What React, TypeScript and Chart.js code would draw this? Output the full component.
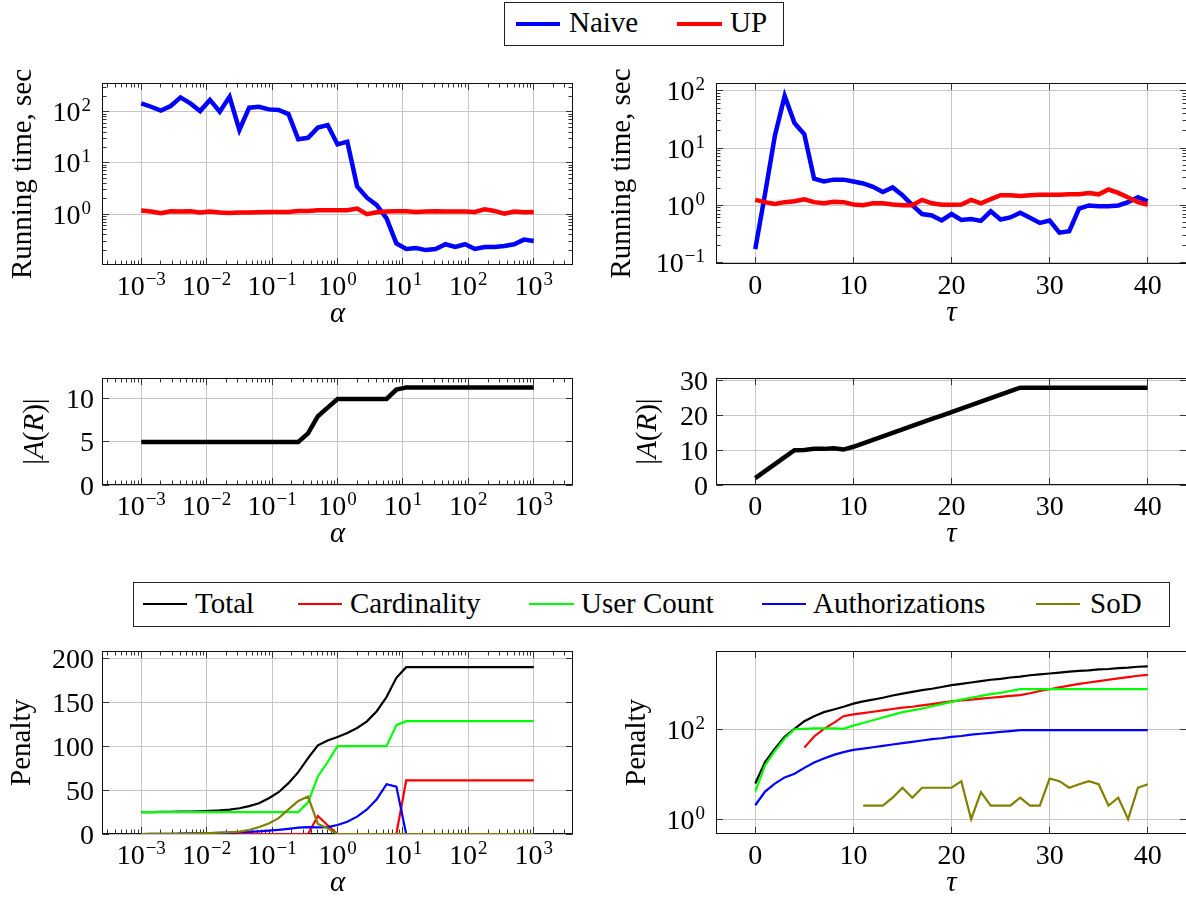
import React, { useEffect, useRef } from "react";
import { Chart, registerables } from "chart.js";
Chart.register(...registerables);

// ---------- fonts ----------
const SERIF = "'Liberation Serif', 'Times New Roman', serif";
const MAIN_PX = 28; // tick digits
const TEXT_PX = 29; // words (titles, legend)
const SUP_PX = 19;
function fontMetrics(px: number) {
  const c = document.createElement("canvas").getContext("2d") as CanvasRenderingContext2D;
  c.font = `${px}px ${SERIF}`;
  const m: any = c.measureText("Hg");
  return { asc: m.fontBoundingBoxAscent ?? px * 0.891, desc: m.fontBoundingBoxDescent ?? px * 0.216 };
}
const FM = fontMetrics(TEXT_PX);

// ---------- data ----------
const alphaExp = [-3, -2.85, -2.7, -2.55, -2.4, -2.25, -2.1, -1.95, -1.8, -1.65, -1.5, -1.35, -1.2, -1.05, -0.9, -0.75, -0.6, -0.45, -0.3, -0.15, 0, 0.15, 0.3, 0.45, 0.6, 0.75, 0.9, 1.05, 1.2, 1.35, 1.5, 1.65, 1.8, 1.95, 2.1, 2.25, 2.4, 2.55, 2.7, 2.85, 3];
const alpha = alphaExp.map((e) => Math.pow(10, e));
const tau = [0, 1, 2, 3, 4, 5, 6, 7, 8, 9, 10, 11, 12, 13, 14, 15, 16, 17, 18, 19, 20, 21, 22, 23, 24, 25, 26, 27, 28, 29, 30, 31, 32, 33, 34, 35, 36, 37, 38, 39, 40];

const naiveAlpha = [145, 125, 105, 129, 190, 145, 103, 170, 100, 195, 44, 120, 125, 111, 108, 90, 29, 31, 49, 55, 23, 26, 3.5, 2.1, 1.5, 0.83, 0.27, 0.21, 0.22, 0.2, 0.21, 0.26, 0.23, 0.26, 0.21, 0.23, 0.23, 0.24, 0.26, 0.32, 0.3];
const upAlpha = [1.18, 1.13, 1.05, 1.14, 1.13, 1.14, 1.08, 1.13, 1.08, 1.06, 1.08, 1.08, 1.09, 1.11, 1.11, 1.11, 1.16, 1.16, 1.2, 1.2, 1.2, 1.2, 1.29, 1.0, 1.09, 1.13, 1.14, 1.14, 1.11, 1.13, 1.14, 1.13, 1.13, 1.13, 1.11, 1.25, 1.16, 1.03, 1.13, 1.09, 1.11];

const naiveTau = [0.17, 1.6, 16.4, 82, 27.5, 17.4, 2.9, 2.6, 2.8, 2.8, 2.6, 2.4, 2.1, 1.7, 2.05, 1.5, 1.0, 0.7, 0.66, 0.54, 0.7, 0.55, 0.57, 0.53, 0.78, 0.56, 0.61, 0.74, 0.6, 0.49, 0.54, 0.33, 0.35, 0.87, 0.99, 0.96, 0.96, 0.99, 1.13, 1.38, 1.17];
const upTau = [1.24, 1.13, 1.05, 1.13, 1.17, 1.27, 1.13, 1.08, 1.15, 1.13, 1.03, 1.0, 1.08, 1.08, 1.03, 1.0, 1.0, 1.24, 1.08, 1.02, 1.02, 1.03, 1.24, 1.08, 1.28, 1.5, 1.5, 1.45, 1.5, 1.52, 1.52, 1.52, 1.55, 1.55, 1.64, 1.55, 1.88, 1.64, 1.36, 1.13, 1.02];

const sizeAlpha = [5, 5, 5, 5, 5, 5, 5, 5, 5, 5, 5, 5, 5, 5, 5, 5, 5, 6, 8, 9, 10, 10, 10, 10, 10, 10, 11.1, 11.35, 11.35, 11.35, 11.35, 11.35, 11.35, 11.35, 11.35, 11.35, 11.35, 11.35, 11.35, 11.35, 11.35];
const sizeTau = [2, 4, 6, 8, 10, 10.1, 10.4, 10.4, 10.6, 10.2, 11, 12, 13, 14, 15, 16, 17, 18, 19, 20, 21, 22, 23, 24, 25, 26, 27, 28, 28, 28, 28, 28, 28, 28, 28, 28, 28, 28, 28, 28, 28];

const totalAlpha = [24.8, 25.0, 25.1, 25.2, 25.4, 25.6, 25.9, 26.3, 26.8, 27.8, 29.3, 31.7, 35, 40.7, 47.6, 57.9, 70.4, 86.4, 101, 106.6, 110.4, 115, 120.7, 128.3, 139.8, 156, 177.8, 190, 190, 190, 190, 190, 190, 190, 190, 190, 190, 190, 190, 190, 190];
const cardAlpha = [0, 0, 0, 0, 0, 0, 0, 0, 0, 0, 0, 0, 0, 0, 0, 0, 0, 0, 20.5, 10, 0, 0, 0, 0, 0, 0, 0, 61, 61, 61, 61, 61, 61, 61, 61, 61, 61, 61, 61, 61, 61];
const userAlpha = [25, 25, 25, 25, 25, 25, 25, 25, 25, 25, 25, 25, 25, 25, 25, 25, 25, 36, 65.5, 82, 100, 100, 100, 100, 100, 100, 124, 128.5, 128.5, 128.5, 128.5, 128.5, 128.5, 128.5, 128.5, 128.5, 128.5, 128.5, 128.5, 128.5, 128.5];
const authAlpha = [0, 0.1, 0.2, 0.3, 0.4, 0.6, 0.8, 1.0, 1.3, 1.6, 2.0, 2.5, 3.1, 3.9, 4.8, 5.9, 7.2, 7.8, 7.6, 7.8, 10.3, 14, 19.8, 28, 39.6, 56.7, 54, 0, 0, 0, 0, 0, 0, 0, 0, 0, 0, 0, 0, 0, 0];
const sodAlpha = [0, 0.05, 0.1, 0.2, 0.3, 0.5, 0.7, 1.0, 1.5, 2.0, 2.7, 4.5, 8, 12, 18, 28, 37.7, 42.6, 11.4, 6.5, 0, 0, 0, 0, 0, 0, 0, 0, 0, 0, 0, 0, 0, 0, 0, 0, 0, 0, 0, 0, 0];

const totalTau = [6.2, 18.6, 37, 68, 102, 151, 195, 240, 275, 316, 372, 417, 457, 501, 562, 617, 676, 741, 794, 871, 955, 1023, 1096, 1175, 1259, 1318, 1413, 1479, 1585, 1660, 1738, 1820, 1905, 1995, 2042, 2138, 2188, 2291, 2344, 2455, 2512];
const cardTau = [null, null, null, null, null, 39, 69, 102, 138, 195, 214, 229, 245, 263, 282, 302, 316, 339, 363, 389, 417, 437, 457, 479, 501, 525, 550, 575, 631, 708, 776, 851, 933, 1023, 1096, 1175, 1259, 1349, 1445, 1549, 1622];
const userTau = [4.1, 15.8, 33, 62, 100, 102, 105, 105, 105, 102, 120, 138, 158, 182, 209, 240, 263, 288, 324, 363, 407, 457, 501, 550, 603, 646, 708, 776, 776, 776, 776, 776, 776, 776, 776, 776, 776, 776, 776, 776, 776];
const authTau = [2.04, 4.1, 6.2, 8.5, 10.2, 13.8, 18.2, 22.4, 26.9, 30.9, 34.7, 37.2, 39.8, 42.7, 45.7, 49, 52.5, 56.2, 60.3, 63.1, 67.6, 70.8, 75.9, 79.4, 83.2, 87.1, 91.2, 95.5, 95.5, 95.5, 95.5, 95.5, 95.5, 95.5, 95.5, 95.5, 95.5, 95.5, 95.5, 95.5, 95.5];
const sodTau = [null, null, null, null, null, null, null, null, null, null, null, 2, 2, 2, 3, 5, 3, 5, 5, 5, 5, 7, 1, 4, 2, 2, 2, 3, 2, 2, 8, 7, 5, 6, 7, 6, 2, 3, 1, 5, 6];

// ---------- ticks / labels ----------
const alphaTicks = [1e-3, 1e-2, 1e-1, 1, 10, 100, 1000];
const alphaTickExps = ["−3", "−2", "−1", "0", "1", "2", "3"];
const tauTicks = [0, 10, 20, 30, 40];
const runAlphaYTicks = [1, 10, 100];
const runAlphaYExps = ["0", "1", "2"];
const runTauYTicks = [0.1, 1, 10, 100];
const runTauYExps = ["−1", "0", "1", "2"];
const sizeAlphaYTicks = [0, 5, 10];
const sizeTauYTicks = [0, 10, 20, 30];
const penAlphaYTicks = [0, 50, 100, 150, 200];
const penTauYTicks = [1, 100];
const penTauYExps = ["0", "2"];

const runLabels = ["Naive", "UP"];
const runColors = ["#0000ff", "#ff0000"];
const penLabels = ["Total", "Cardinality", "User Count", "Authorizations", "SoD"];
const penColors = ["#000000", "#ff0000", "#00ff00", "#0000ff", "#808000"];

// ---------- types ----------
type Seg = { t: string; it?: boolean };
interface AxisCfg { log: boolean; min: number; max: number; ticks: number[]; exps?: string[]; minor: boolean }
interface DS { label: string; data: (number | null)[]; color: string; width: number }
interface PanelCfg {
  left: number; top: number; w: number; h: number;
  plot: { l: number; t: number; r: number; b: number };
  x: AxisCfg; xs: number[]; y: AxisCfg;
  xTitle: Seg[]; yTitle: Seg[]; yTitleX: number;
  series: DS[];
}

const alphaAxis: AxisCfg = { log: true, min: Math.pow(10, -3.6), max: Math.pow(10, 3.6), ticks: alphaTicks, exps: alphaTickExps, minor: true };
const tauAxis: AxisCfg = { log: false, min: -4, max: 44, ticks: tauTicks, minor: false };
const ALPHA: Seg[] = [{ t: "α", it: true }];
const TAU: Seg[] = [{ t: "τ", it: true }];
const RUN: Seg[] = [{ t: "Running time, sec" }];
const SIZE: Seg[] = [{ t: "|" }, { t: "A", it: true }, { t: "(" }, { t: "R", it: true }, { t: ")" }, { t: "|" }];
const PEN: Seg[] = [{ t: "Penalty" }];

const panels: PanelCfg[] = [
  {
    left: 0, top: 55, w: 595, h: 275, plot: { l: 102, t: 83, r: 573, b: 265 },
    x: alphaAxis, xs: alpha,
    y: { log: true, min: Math.pow(10, -0.99), max: Math.pow(10, 2.56), ticks: runAlphaYTicks, exps: runAlphaYExps, minor: true },
    xTitle: ALPHA, yTitle: RUN, yTitleX: 31,
    series: [
      { label: runLabels[0], data: naiveAlpha, color: runColors[0], width: 4.5 },
      { label: runLabels[1], data: upAlpha, color: runColors[1], width: 4.5 },
    ],
  },
  {
    left: 600, top: 55, w: 600, h: 275, plot: { l: 716, t: 83, r: 1187, b: 264 },
    x: tauAxis, xs: tau,
    y: { log: true, min: Math.pow(10, -1.03), max: Math.pow(10, 2.14), ticks: runTauYTicks, exps: runTauYExps, minor: true },
    xTitle: TAU, yTitle: RUN, yTitleX: 630,
    series: [
      { label: runLabels[0], data: naiveTau, color: runColors[0], width: 4.5 },
      { label: runLabels[1], data: upTau, color: runColors[1], width: 4.5 },
    ],
  },
  {
    left: 0, top: 350, w: 595, h: 215, plot: { l: 102, t: 378, r: 573, b: 485 },
    x: alphaAxis, xs: alpha,
    y: { log: false, min: 0, max: 12.44, ticks: sizeAlphaYTicks, minor: false },
    xTitle: ALPHA, yTitle: SIZE, yTitleX: 43,
    series: [{ label: "size", data: sizeAlpha, color: "#000000", width: 4.5 }],
  },
  {
    left: 600, top: 350, w: 600, h: 215, plot: { l: 716, t: 378, r: 1187, b: 485 },
    x: tauAxis, xs: tau,
    y: { log: false, min: 0, max: 30.8, ticks: sizeTauYTicks, minor: false },
    xTitle: TAU, yTitle: SIZE, yTitleX: 656,
    series: [{ label: "size", data: sizeTau, color: "#000000", width: 4.5 }],
  },
  {
    left: 0, top: 636, w: 595, h: 263, plot: { l: 102, t: 651, r: 573, b: 834 },
    x: alphaAxis, xs: alpha,
    y: { log: false, min: 0, max: 208.4, ticks: penAlphaYTicks, minor: false },
    xTitle: ALPHA, yTitle: PEN, yTitleX: 30,
    series: [
      { label: penLabels[0], data: totalAlpha, color: penColors[0], width: 2.2 },
      { label: penLabels[1], data: cardAlpha, color: penColors[1], width: 2.2 },
      { label: penLabels[2], data: userAlpha, color: penColors[2], width: 2.2 },
      { label: penLabels[3], data: authAlpha, color: penColors[3], width: 2.2 },
      { label: penLabels[4], data: sodAlpha, color: penColors[4], width: 2.2 },
    ],
  },
  {
    left: 600, top: 636, w: 600, h: 263, plot: { l: 716, t: 651, r: 1187, b: 834 },
    x: tauAxis, xs: tau,
    y: { log: true, min: Math.pow(10, -0.33), max: Math.pow(10, 3.74), ticks: penTauYTicks, exps: penTauYExps, minor: false },
    xTitle: TAU, yTitle: PEN, yTitleX: 645,
    series: [
      { label: penLabels[0], data: totalTau, color: penColors[0], width: 2.2 },
      { label: penLabels[1], data: cardTau, color: penColors[1], width: 2.2 },
      { label: penLabels[2], data: userTau, color: penColors[2], width: 2.2 },
      { label: penLabels[3], data: authTau, color: penColors[3], width: 2.2 },
      { label: penLabels[4], data: sodTau, color: penColors[4], width: 2.2 },
    ],
  },
];

// ---------- drawing helpers ----------
const fontOf = (it: boolean | undefined, px: number) => `${it ? "italic " : ""}${px}px ${SERIF}`;
const align = (p: number) => Math.round(p - 0.5) + 0.5;

function drawSegs(ctx: CanvasRenderingContext2D, segs: Seg[], cx: number, baseline: number) {
  let total = 0;
  const widths = segs.map((s) => {
    ctx.font = fontOf(s.it, TEXT_PX);
    const w = ctx.measureText(s.t).width;
    total += w;
    return w;
  });
  let x = cx - total / 2;
  ctx.textAlign = "left";
  ctx.textBaseline = "alphabetic";
  segs.forEach((s, i) => {
    ctx.font = fontOf(s.it, TEXT_PX);
    ctx.fillText(s.t, x, baseline);
    x += widths[i];
  });
}

function drawTickLabel(ctx: CanvasRenderingContext2D, base: string, exp: string | undefined, x: number, baseline: number, al: "center" | "right") {
  ctx.font = fontOf(false, MAIN_PX);
  const wb = ctx.measureText(base).width;
  let we = 0;
  if (exp) {
    ctx.font = fontOf(false, SUP_PX);
    we = ctx.measureText(exp).width + 1;
  }
  const tot = wb + we;
  const left = al === "center" ? x - tot / 2 : x - tot;
  ctx.textAlign = "left";
  ctx.textBaseline = "alphabetic";
  ctx.font = fontOf(false, MAIN_PX);
  ctx.fillText(base, left, baseline);
  if (exp) {
    ctx.font = fontOf(false, SUP_PX);
    ctx.fillText(exp, left + wb + 1, baseline - 10);
  }
}

function minorValues(ax: AxisCfg): number[] {
  if (!ax.log || !ax.minor) return [];
  const out: number[] = [];
  const d0 = Math.floor(Math.log10(ax.min));
  const d1 = Math.ceil(Math.log10(ax.max));
  for (let d = d0; d <= d1; d++) {
    for (let m = 2; m <= 9; m++) {
      const v = m * Math.pow(10, d);
      if (v > ax.min && v < ax.max) out.push(v);
    }
  }
  return out;
}

function makePlugin(cfg: PanelCfg) {
  return {
    id: "pgfAxes",
    beforeDatasetsDraw(chart: any) {
      const { ctx, chartArea: a } = chart;
      const sx = chart.scales.x;
      const sy = chart.scales.y;
      const L = Math.round(a.left) + 0.5;
      const R = Math.round(a.right) - 0.5;
      const T = Math.round(a.top) + 0.5;
      const B = Math.round(a.bottom) - 0.5;
      ctx.save();
      ctx.strokeStyle = "#333333";
      ctx.lineWidth = 1;
      ctx.beginPath();
      const xt = (v: number, len: number) => {
        const p = align(sx.getPixelForValue(v));
        ctx.moveTo(p, B); ctx.lineTo(p, B - len);
        ctx.moveTo(p, T); ctx.lineTo(p, T + len);
      };
      const yt = (v: number, len: number) => {
        const p = align(sy.getPixelForValue(v));
        ctx.moveTo(L, p); ctx.lineTo(L + len, p);
        ctx.moveTo(R, p); ctx.lineTo(R - len, p);
      };
      cfg.x.ticks.forEach((v) => xt(v, 6.5));
      minorValues(cfg.x).forEach((v) => xt(v, 4));
      cfg.y.ticks.forEach((v) => yt(v, 6.5));
      minorValues(cfg.y).forEach((v) => yt(v, 4));
      ctx.stroke();
      ctx.strokeStyle = "#111111";
      ctx.strokeRect(L, T, R - L, B - T);
      ctx.restore();
    },
    afterDraw(chart: any) {
      const { ctx, chartArea: a } = chart;
      const sx = chart.scales.x;
      const sy = chart.scales.y;
      ctx.save();
      ctx.fillStyle = "#000000";
      cfg.x.ticks.forEach((v, i) => {
        const p = sx.getPixelForValue(v);
        drawTickLabel(ctx, cfg.x.exps ? "10" : String(v), cfg.x.exps ? cfg.x.exps[i] : undefined, p, a.bottom + 30, "center");
      });
      cfg.y.ticks.forEach((v, i) => {
        const p = sy.getPixelForValue(v);
        drawTickLabel(ctx, cfg.y.exps ? "10" : String(v), cfg.y.exps ? cfg.y.exps[i] : undefined, a.left - (cfg.y.exps ? 11 : 8), p + 9.5, "right");
      });
      drawSegs(ctx, cfg.xTitle, (a.left + a.right) / 2, a.bottom + 57);
      ctx.translate(cfg.yTitleX - cfg.left, (a.top + a.bottom) / 2);
      ctx.rotate(-Math.PI / 2);
      drawSegs(ctx, cfg.yTitle, 0, 0);
      ctx.restore();
    },
  };
}

function axisOptions(ax: AxisCfg, which: "x" | "y", cfg: PanelCfg) {
  return {
    type: ax.log ? "logarithmic" : "linear",
    position: which === "x" ? "bottom" : "left",
    min: ax.min,
    max: ax.max,
    bounds: "data",
    grid: { color: "#c6c6c6", lineWidth: 1, drawTicks: false },
    border: { display: false },
    ticks: { display: false },
    afterBuildTicks: (s: any) => {
      s.ticks = ax.ticks.map((v) => ({ value: v }));
    },
    afterFit: (s: any) => {
      if (which === "x") s.height = cfg.top + cfg.h - cfg.plot.b;
      else s.width = cfg.plot.l - cfg.left;
    },
  };
}

function Panel({ cfg }: { cfg: PanelCfg }) {
  const ref = useRef<HTMLCanvasElement>(null);
  useEffect(() => {
    const n = cfg.series.length;
    const chart = new Chart(ref.current as HTMLCanvasElement, {
      type: "line",
      data: {
        datasets: cfg.series.map((s, i) => ({
          label: s.label,
          data: cfg.xs.map((x, j) => ({ x, y: s.data[j] })),
          borderColor: s.color,
          backgroundColor: s.color,
          borderWidth: s.width,
          pointRadius: 0,
          fill: false,
          tension: 0,
          spanGaps: false,
          order: n - i,
        })),
      } as any,
      options: {
        responsive: false,
        maintainAspectRatio: false,
        animation: false,
        events: [],
        layout: { padding: { left: 0, top: cfg.plot.t - cfg.top, right: cfg.left + cfg.w - cfg.plot.r, bottom: 0 } },
        plugins: { legend: { display: false }, tooltip: { enabled: false } },
        scales: {
          x: axisOptions(cfg.x, "x", cfg),
          y: axisOptions(cfg.y, "y", cfg),
        },
      } as any,
      plugins: [makePlugin(cfg)],
    });
    return () => chart.destroy();
  }, [cfg]);
  return (
    <canvas
      ref={ref}
      width={cfg.w}
      height={cfg.h}
      style={{ position: "absolute", left: cfg.left, top: cfg.top, width: cfg.w, height: cfg.h }}
    />
  );
}

function Txt({ x, base, text }: { x: number; base: number; text: string }) {
  const lh = TEXT_PX;
  const top = base - ((lh - (FM.asc + FM.desc)) / 2 + FM.asc);
  return (
    <div style={{ position: "absolute", left: x, top, fontFamily: SERIF, fontSize: TEXT_PX, lineHeight: `${lh}px`, whiteSpace: "nowrap", color: "#000" }}>
      {text}
    </div>
  );
}

function Sample({ x1, x2, y, th, color }: { x1: number; x2: number; y: number; th: number; color: string }) {
  return <div style={{ position: "absolute", left: x1, top: y - th / 2, width: x2 - x1, height: th, background: color }} />;
}

const topLegendPos = [
  { s1: 516, s2: 560, tx: 569 },
  { s1: 677, s2: 722, tx: 730 },
];
const penLegendPos = [
  { s1: 143, s2: 187, tx: 195 },
  { s1: 298, s2: 342, tx: 350 },
  { s1: 529, s2: 574, tx: 581 },
  { s1: 762, s2: 806, tx: 813 },
  { s1: 1036, s2: 1080, tx: 1090 },
];

export default function App() {
  return (
    <div style={{ position: "absolute", left: 0, top: 0, width: 1186, height: 899, overflow: "hidden", background: "#ffffff", fontFamily: SERIF }}>
      {panels.map((p, i) => (
        <Panel key={i} cfg={p} />
      ))}
      <div style={{ position: "absolute", left: 504, top: 2, width: 280, height: 44, border: "1px solid #222", boxSizing: "border-box", background: "#fff" }} />
      {runLabels.map((l, i) => (
        <React.Fragment key={l}>
          <Sample x1={topLegendPos[i].s1} x2={topLegendPos[i].s2} y={24} th={4.5} color={runColors[i]} />
          <Txt x={topLegendPos[i].tx} base={32} text={l} />
        </React.Fragment>
      ))}
      <div style={{ position: "absolute", left: 133, top: 582, width: 1037, height: 45, border: "1px solid #222", boxSizing: "border-box", background: "#fff" }} />
      {penLabels.map((l, i) => (
        <React.Fragment key={l}>
          <Sample x1={penLegendPos[i].s1} x2={penLegendPos[i].s2} y={604} th={2.2} color={penColors[i]} />
          <Txt x={penLegendPos[i].tx} base={613} text={l} />
        </React.Fragment>
      ))}
    </div>
  );
}
